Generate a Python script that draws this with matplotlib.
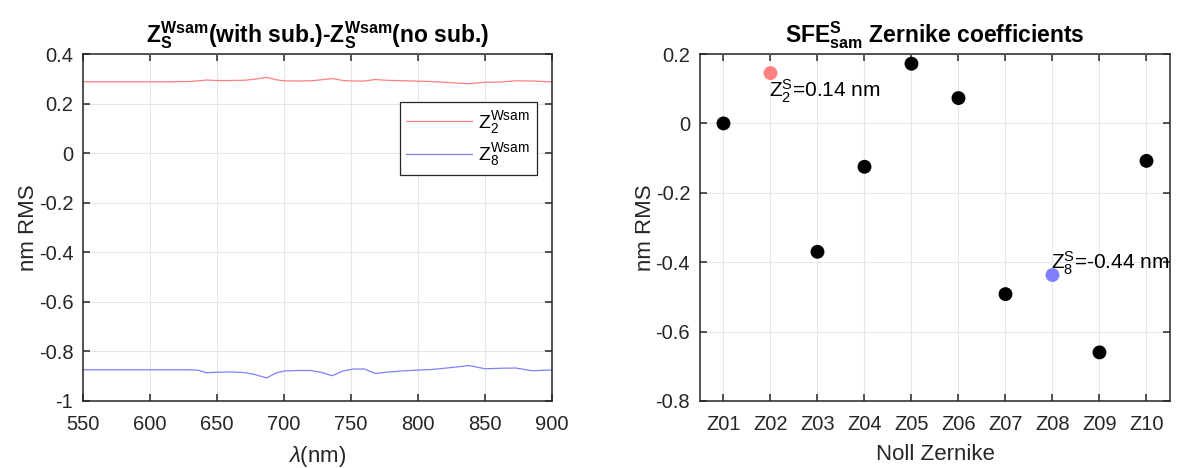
import numpy as np
import matplotlib
matplotlib.use("Agg")
import matplotlib.pyplot as plt

plt.rcParams['font.family'] = ['Liberation Sans', 'DejaVu Sans']
plt.rcParams['mathtext.fontset'] = 'custom'
plt.rcParams['mathtext.rm'] = 'Liberation Sans'
plt.rcParams['mathtext.it'] = 'Liberation Sans:italic'
plt.rcParams['mathtext.bf'] = 'Liberation Sans:bold'

# left panel: difference curves vs wavelength
lam = [550, 570, 590, 610, 630, 636, 642, 650, 660, 670, 678, 687, 694, 700, 710, 720,
       728, 736, 744, 752, 760, 768, 776, 790, 810, 825, 838, 850, 862, 873, 885, 900]
z2_diff = [0.288, 0.288, 0.288, 0.288, 0.289, 0.292, 0.295, 0.293, 0.293, 0.294, 0.298, 0.306,
           0.296, 0.292, 0.291, 0.292, 0.296, 0.301, 0.293, 0.291, 0.291, 0.297, 0.294, 0.292,
           0.289, 0.284, 0.280, 0.286, 0.287, 0.292, 0.291, 0.288]
z8_diff = [-0.874, -0.874, -0.874, -0.874, -0.874, -0.876, -0.886, -0.884, -0.883, -0.885, -0.893,
           -0.907, -0.887, -0.879, -0.877, -0.877, -0.885, -0.898, -0.879, -0.871, -0.871, -0.889,
           -0.884, -0.878, -0.873, -0.865, -0.857, -0.870, -0.868, -0.867, -0.878, -0.875]

# right panel: Zernike coefficients
zlabels = ["Z01", "Z02", "Z03", "Z04", "Z05", "Z06", "Z07", "Z08", "Z09", "Z10"]
zcoef = [0.0, 0.145, -0.37, -0.125, 0.172, 0.073, -0.492, -0.437, -0.66, -0.108]

RED, BLUE = "#ff8080", "#8080ff"
AX_C = "#262626"
TICK_FS, LAB_FS, TITLE_FS = 14.5, 16, 16.5

def style(ax):
    for s in ax.spines.values():
        s.set_color(AX_C); s.set_linewidth(1.1)
    ax.tick_params(direction="in", top=True, right=True, length=5, width=1.1,
                   colors=AX_C, labelsize=TICK_FS, pad=7)
    ax.tick_params(axis="x", pad=10)
    ax.grid(True, color="#e6e6e6", lw=0.8)
    ax.set_axisbelow(True)

fig = plt.figure(figsize=(11.78, 4.68), dpi=100)
ax1 = fig.add_axes([0.0705, 0.1432, 0.3981, 0.7414])
ax2 = fig.add_axes([0.5942, 0.1432, 0.3990, 0.7414])

ax1.plot(lam, z2_diff, color=RED, lw=0.9, label=r"Z$_2^{\mathrm{Wsam}}$")
ax1.plot(lam, z8_diff, color=BLUE, lw=0.9, label=r"Z$_8^{\mathrm{Wsam}}$")
ax1.set_xlim(550, 900); ax1.set_ylim(-1, 0.4)
ax1.set_xticks(np.arange(550, 901, 50))
ax1.set_yticks(np.arange(-1, 0.41, 0.2))
ax1.set_yticklabels(["-1", "-0.8", "-0.6", "-0.4", "-0.2", "0", "0.2", "0.4"])
style(ax1)
ax1.set_xlabel(r"$\lambda$(nm)", fontsize=LAB_FS, color=AX_C, labelpad=7)
ax1.set_ylabel("nm RMS", fontsize=LAB_FS, color=AX_C, labelpad=0)
ax1.set_title(r"$\mathbf{Z_S^{Wsam}}$(with sub.)-$\mathbf{Z_S^{Wsam}}$(no sub.)",
              fontsize=TITLE_FS, fontweight="bold", pad=8)
leg = ax1.legend(loc="upper right", bbox_to_anchor=(0.968, 0.862), fontsize=14,
                 fancybox=False, handlelength=3.4, handletextpad=0.3, borderpad=0.35,
                 labelspacing=0.3, framealpha=1, borderaxespad=0)
leg.get_frame().set_edgecolor(AX_C); leg.get_frame().set_linewidth(0.9)

xs = np.arange(1, len(zcoef) + 1)
cols = ["black"] * len(zcoef)
cols[1] = RED; cols[7] = BLUE
ax2.scatter(xs, zcoef, s=100, c=cols, zorder=3, edgecolors="none")
ax2.set_xlim(0.5, 10.5); ax2.set_ylim(-0.8, 0.2)
ax2.set_xticks(xs); ax2.set_xticklabels(zlabels)
ax2.set_yticks(np.arange(-0.8, 0.21, 0.2))
ax2.set_yticklabels(["-0.8", "-0.6", "-0.4", "-0.2", "0", "0.2"])
style(ax2)
ax2.text(1.97, zcoef[1] - 0.052, r"Z$_2^{\mathrm{S}}$=0.14 nm", fontsize=15, va="center", ha="left")
ax2.text(7.97, zcoef[7] + 0.035, r"Z$_8^{\mathrm{S}}$=-0.44 nm", fontsize=15, va="center",
         ha="left", clip_on=True)
ax2.set_xlabel("Noll Zernike", fontsize=LAB_FS, color=AX_C, labelpad=7)
ax2.set_ylabel("nm RMS", fontsize=LAB_FS, color=AX_C, labelpad=0)
ax2.set_title(r"$\mathbf{SFE_{sam}^S}$ Zernike coefficients", fontsize=TITLE_FS, fontweight="bold", pad=8)

fig.savefig("out.png", dpi=100)
